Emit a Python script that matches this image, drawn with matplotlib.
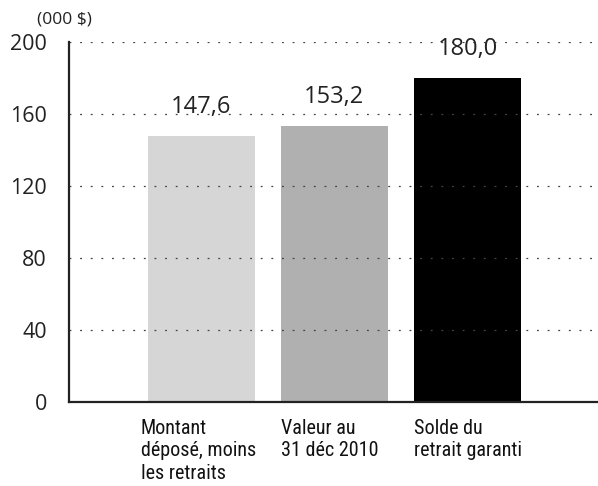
import matplotlib
matplotlib.use("Agg")
import matplotlib.pyplot as plt

categories = ["Montant\ndéposé, moins\nles retraits", "Valeur au\n31 déc 2010", "Solde du\nretrait garanti"]
values = [147.6, 153.2, 180.0]
value_labels = ["147,6", "153,2", "180,0"]
yticks = [0, 40, 80, 120, 160, 200]
colors = ["#d6d6d6", "#b0b0b0", "#000000"]

fig = plt.figure(figsize=(5.98, 4.86), dpi=100)
ax = fig.add_axes([68.5 / 598, 84 / 486, 1 - 68.5 / 598, 360 / 486])

x = list(range(len(values)))
ax.bar(x, values, width=0.805, color=colors, zorder=1)
ax.set_xlim(-0.996, 2.98)
ax.set_ylim(0, 200)

ax.set_yticks(yticks)
ax.set_yticklabels([str(t) for t in yticks], fontsize=15.5, family="Open Sans", color="#222222")
ax.tick_params(axis="y", length=0, pad=15.5)
ax.set_xticks([])

# dotted reference lines drawn over the bars
for t in yticks[1:]:
    ax.axhline(t, color="#444444", lw=0.9, ls=(0, (1.5, 7)), zorder=2)

for s in ["top", "right"]:
    ax.spines[s].set_visible(False)
for s in ["left", "bottom"]:
    ax.spines[s].set_color("#222222")
    ax.spines[s].set_linewidth(1.6)

for xi, v, lab in zip(x, values, value_labels):
    ax.annotate(lab, (xi, v), xytext=(0, 16.5), textcoords="offset points",
                ha="center", va="baseline", fontsize=17, family="Open Sans", color="#222222")

for xi, cat in zip(x, categories):
    ax.annotate(cat, (xi - 0.4, 0), xytext=(-5 if xi == 0 else 0, -12), textcoords="offset points",
                ha="left", va="top", fontsize=14.5, family="Roboto Condensed", color="#111111",
                linespacing=1.25)

fig.text(37 / 598, 1 - 20 / 486, "(000 $)", fontsize=12.5, family="Open Sans", color="#222222", va="center")

fig.savefig("out.png", dpi=100)
